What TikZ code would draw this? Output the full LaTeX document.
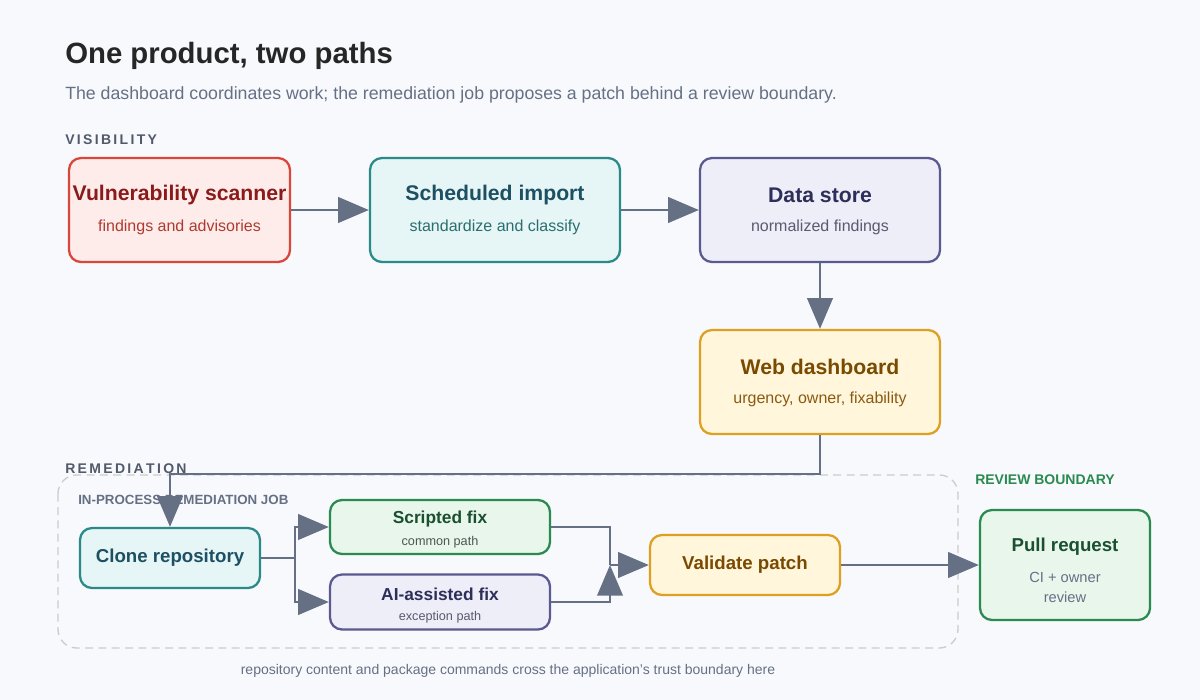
\documentclass[tikz,border=0pt]{standalone}
\usepackage{fontspec}
\setmainfont{Liberation Sans}
\usetikzlibrary{arrows.meta}
\definecolor{bg}{HTML}{F7F9FC}
\definecolor{ink}{HTML}{667085}
\definecolor{redb}{HTML}{D9473B}\definecolor{redf}{HTML}{FDECEA}\definecolor{redt}{HTML}{8B1A1A}\definecolor{reds}{HTML}{B03A30}
\definecolor{tealb}{HTML}{2A8A8A}\definecolor{tealf}{HTML}{E6F5F5}\definecolor{tealt}{HTML}{1D5063}\definecolor{teals}{HTML}{2A6E70}
\definecolor{purb}{HTML}{5A5A90}\definecolor{purf}{HTML}{EEEEF8}\definecolor{purt}{HTML}{2E2E5A}\definecolor{purs}{HTML}{5A5A70}
\definecolor{orb}{HTML}{DDA020}\definecolor{orf}{HTML}{FFF6DC}\definecolor{ort}{HTML}{7A4A00}\definecolor{ors}{HTML}{8A5A10}
\definecolor{grb}{HTML}{2A8A50}\definecolor{grf}{HTML}{E8F6EC}\definecolor{grt}{HTML}{1A5030}\definecolor{grs}{HTML}{4A5A50}
\begin{document}
\begin{tikzpicture}[x=0.75pt,y=-0.75pt,
  box/.style n args={3}{draw=#1,fill=#2,line width=1.7pt,rounded corners=9pt,text=#3,align=center,inner sep=0pt},
  arr/.style={draw=ink,line width=2.2pt,-{Triangle[length=23pt,width=19pt]}},
  ln/.style={draw=ink,line width=2.2pt},
  tt/.style={font=\fontsize{15.9}{19}\selectfont\bfseries},
  st/.style={font=\fontsize{12}{14}\selectfont},
  sec/.style={font=\fontsize{10.5}{12}\selectfont\bfseries,text=ink!80!black,anchor=west,inner sep=0pt}]
\fill[bg] (0,0) rectangle (1200,700);
\useasboundingbox (0,0) rectangle (1200,700);
\node[anchor=west,inner sep=0pt,font=\fontsize{22}{26}\selectfont\bfseries,text=black!85] (title) at (65,56) {One product, two paths};
\node[anchor=west,inner sep=0pt,font=\fontsize{13.3}{16}\selectfont,text=ink] (sub) at (65,95) {The dashboard coordinates work; the remediation job proposes a patch behind a review boundary.};
\node[sec] (vis) at (65,140) {V\,I\,S\,I\,B\,I\,L\,I\,T\,Y};
\node[sec] (rem) at (65,469) {R\,E\,M\,E\,D\,I\,A\,T\,I\,O\,N};
\draw[dashed,draw=black!20,line width=1pt,rounded corners=14pt,dash pattern=on 6pt off 4pt] (58,475) rectangle (958,648);
\node[font=\fontsize{10}{12}\selectfont\bfseries,text=ink,anchor=west,inner sep=0pt] (job) at (78,500) {IN-PROCESS REMEDIATION JOB};
\node[font=\fontsize{10.5}{12}\selectfont\bfseries,text=grb,anchor=west,inner sep=0pt] (rb) at (975,480) {REVIEW BOUNDARY};
\node[font=\fontsize{10.5}{12}\selectfont,text=ink] (foot) at (508,671) {repository content and package commands cross the application's trust boundary here};

\node[box={redb}{redf}{redt},minimum width=221*0.75pt,minimum height=104*0.75pt] (vs) at (179.5,210) {};
\node[tt,text=redt] at (179.5,195) {Vulnerability scanner};
\node[st,text=reds] at (179.5,227) {findings and advisories};
\node[box={tealb}{tealf}{tealt},minimum width=250*0.75pt,minimum height=104*0.75pt] (si) at (495,210) {};
\node[tt,text=tealt] at (495,195) {Scheduled import};
\node[st,text=teals] at (495,227) {standardize and classify};
\node[box={purb}{purf}{purt},minimum width=240*0.75pt,minimum height=104*0.75pt] (ds) at (820,210) {};
\node[tt,text=purt] at (820,195) {Data store};
\node[st,text=purs] at (820,227) {normalized findings};
\node[box={orb}{orf}{ort},minimum width=240*0.75pt,minimum height=104*0.75pt] (wd) at (820,382) {};
\node[tt,text=ort] at (820,367) {Web dashboard};
\node[st,text=ors] at (820,399) {urgency, owner, fixability};

\node[box={tealb}{tealf}{tealt},minimum width=180*0.75pt,minimum height=60*0.75pt,font=\fontsize{14}{17}\selectfont\bfseries] (cr) at (170,558) {Clone repository};
\node[box={grb}{grf}{grt},minimum width=220*0.75pt,minimum height=54*0.75pt] (sf) at (440,527) {};
\node[font=\fontsize{13}{15}\selectfont\bfseries,text=grt] at (440,519) {Scripted fix};
\node[font=\fontsize{9.5}{11}\selectfont,text=grs] at (440,542) {common path};
\node[box={purb}{purf}{purt},minimum width=220*0.75pt,minimum height=55*0.75pt] (ai) at (440,602) {};
\node[font=\fontsize{13}{15}\selectfont\bfseries,text=purt] at (440,594) {AI-assisted fix};
\node[font=\fontsize{9.5}{11}\selectfont,text=purs] at (440,617) {exception path};
\node[box={orb}{orf}{ort},minimum width=190*0.75pt,minimum height=60*0.75pt,font=\fontsize{14}{17}\selectfont\bfseries] (vp) at (745,565) {Validate patch};
\node[box={grb}{grf}{grt},minimum width=170*0.75pt,minimum height=110*0.75pt] (pr) at (1065,565) {};
\node[font=\fontsize{14}{17}\selectfont\bfseries,text=grt] at (1065,547) {Pull request};
\node[font=\fontsize{11}{15}\selectfont,text=ink,align=center] at (1065,587) {CI + owner\\review};

\draw[arr] (vs.east) -- (si.west);
\draw[arr] (si.east) -- (ds.west);
\draw[arr] (ds.south) -- (wd.north);
\draw[arr] (wd.south) -- (820,474) -- (170,474) -- (cr.north);
\coordinate (sp) at (295,558);
\draw[ln] (cr.east) -- (sp);
\draw[arr] (sp) |- (sf.west);
\draw[arr] (sp) |- (ai.west);
\coordinate (mg) at (610,565);
\draw[ln] (sf.east) -| (mg);
\draw[arr] (mg) -- (vp.west);
\draw[arr] (ai.east) -| (mg);
\draw[arr] (vp.east) -- (pr.west);
\end{tikzpicture}
\end{document}
